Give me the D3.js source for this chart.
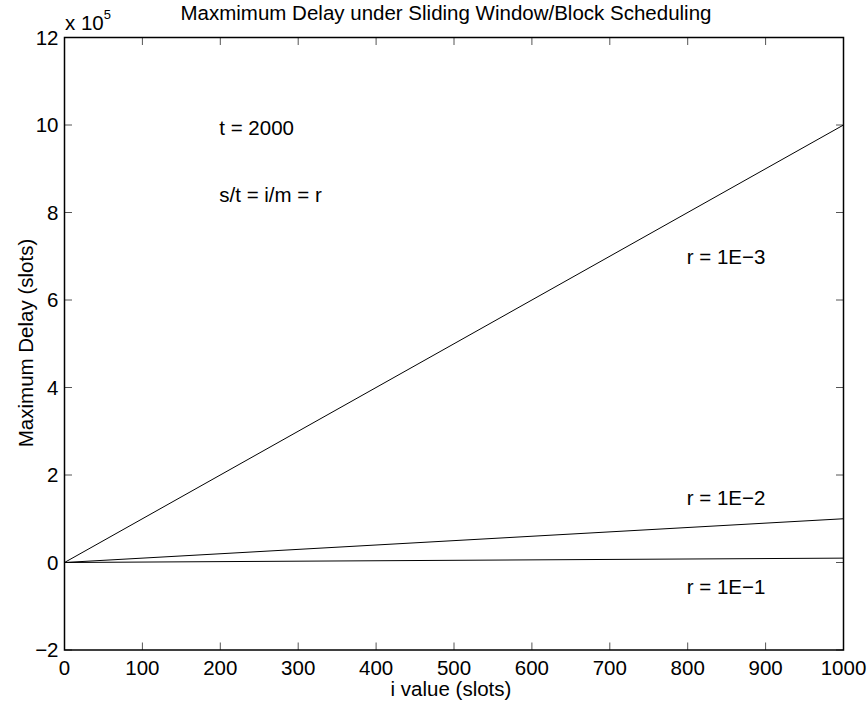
<!DOCTYPE html>
<html>
<head>
<meta charset="utf-8">
<script src="https://cdn.jsdelivr.net/npm/d3@7"></script>
<style>
  html, body { margin: 0; padding: 0; background: #fff; }
  text { font-family: "Liberation Sans", Arial, Helvetica, sans-serif; fill: #000; }
</style>
</head>
<body>
<svg id="chart" width="868" height="704"></svg>
<script>
// i value (slots) at the ends of each line
const iValues = [0, 1000];
// maximum delay (slots) for each ratio r
const delayR1E3 = [0, 1000000];
const delayR1E2 = [0, 100000];
const delayR1E1 = [0, 10000];
const seriesLabels = ["r = 1E\u22123", "r = 1E\u22122", "r = 1E\u22121"];
const xTicks = [0, 100, 200, 300, 400, 500, 600, 700, 800, 900, 1000];
const yTicks = [-2, 0, 2, 4, 6, 8, 10, 12];   // in units of 10^5
const annotations = ["t = 2000", "s/t = i/m = r"];

const svg = d3.select("#chart");
const W = 868, H = 704;
const margin = { left: 64.5, right: W - 843.5, top: 37.5, bottom: H - 650 };
const x = d3.scaleLinear().domain([0, 1000]).range([margin.left, W - margin.right]);
const y = d3.scaleLinear().domain([-2e5, 12e5]).range([H - margin.bottom, margin.top]);
const fs = 20.5;

// tick marks (inside, on all four sides) and tick labels
const tickLen = 7.5;
const g = svg.append("g");
xTicks.forEach(v => {
  g.append("line").attr("x1", x(v)).attr("x2", x(v))
    .attr("y1", y(-2e5)).attr("y2", y(-2e5) - tickLen)
    .attr("stroke", "#555").attr("stroke-width", 1);
  g.append("line").attr("x1", x(v)).attr("x2", x(v))
    .attr("y1", y(12e5)).attr("y2", y(12e5) + tickLen)
    .attr("stroke", "#555").attr("stroke-width", 1);
  svg.append("text").attr("x", x(v)).attr("y", 675)
    .attr("text-anchor", "middle").attr("font-size", fs).text(v);
});
yTicks.forEach(v => {
  g.append("line").attr("x1", x(0)).attr("x2", x(0) + tickLen)
    .attr("y1", y(v * 1e5)).attr("y2", y(v * 1e5))
    .attr("stroke", "#555").attr("stroke-width", 1);
  g.append("line").attr("x1", x(1000)).attr("x2", x(1000) - tickLen)
    .attr("y1", y(v * 1e5)).attr("y2", y(v * 1e5))
    .attr("stroke", "#555").attr("stroke-width", 1);
  svg.append("text").attr("x", x(0) - 6).attr("y", y(v * 1e5) + 7)
    .attr("text-anchor", "end").attr("font-size", fs)
    .text(v < 0 ? "\u2212" + Math.abs(v) : v);
});

// axes box
svg.append("rect")
  .attr("x", x(0)).attr("y", y(12e5))
  .attr("width", x(1000) - x(0)).attr("height", y(-2e5) - y(12e5))
  .attr("fill", "none").attr("stroke", "#000").attr("stroke-width", 1.5);

// exponent label
const ex = svg.append("text").attr("x", 65).attr("y", 29.5).attr("font-size", fs);
ex.append("tspan").text("x 10");
ex.append("tspan").attr("dy", -11).attr("font-size", 13).text("5");

// data lines
const line = d3.line().x(d => x(d[0])).y(d => y(d[1]));
[delayR1E3, delayR1E2, delayR1E1].forEach(vals => {
  svg.append("path")
    .datum(iValues.map((v, k) => [v, vals[k]]))
    .attr("d", line).attr("fill", "none")
    .attr("stroke", "#000").attr("stroke-width", 1);
});

// series labels, placed in data coordinates
const labelY = [6.98e5, 1.47e5, -0.56e5];
seriesLabels.forEach((t, k) => {
  svg.append("text").attr("x", x(800) - 1).attr("y", y(labelY[k]) + 7)
    .attr("font-size", fs).text(t);
});

// annotations
svg.append("text").attr("x", x(200) - 1).attr("y", y(9.93e5) + 7).attr("font-size", fs).text(annotations[0]);
svg.append("text").attr("x", x(200) - 1).attr("y", y(8.4e5) + 7).attr("font-size", fs).text(annotations[1]);

// title and axis labels
svg.append("text").attr("x", 446).attr("y", 20).attr("text-anchor", "middle")
  .attr("font-size", fs).text("Maxmimum Delay under Sliding Window/Block Scheduling");
svg.append("text").attr("x", 451).attr("y", 696).attr("text-anchor", "middle")
  .attr("font-size", fs).text("i value (slots)");
svg.append("text").attr("transform", `translate(33, 343) rotate(-90)`)
  .attr("text-anchor", "middle").attr("font-size", fs).text("Maximum Delay (slots)");
</script>
</body>
</html>
